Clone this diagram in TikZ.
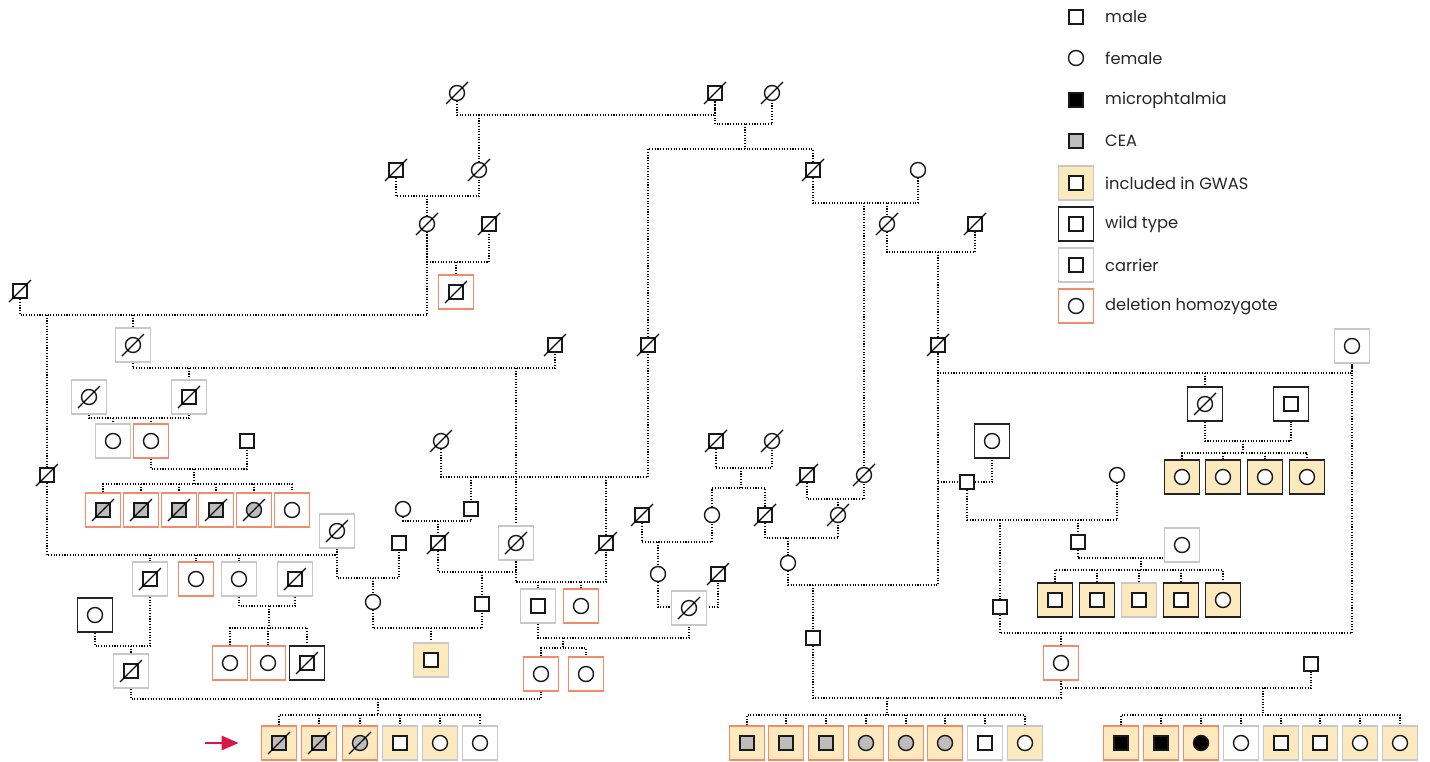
\documentclass[tikz,border=0pt]{standalone}
\usepackage{fontspec}
\setmainfont{Poppins}
\usetikzlibrary{backgrounds,arrows.meta}
\definecolor{gw}{RGB}{252,234,190}
\definecolor{car}{RGB}{200,200,200}
\definecolor{hom}{RGB}{244,138,104}
\definecolor{ceag}{RGB}{189,189,189}
\definecolor{wtc}{RGB}{35,35,35}
\definecolor{arr}{RGB}{214,24,70}
\tikzset{
 sym/.style={draw=black!90, line width=1.4pt, inner sep=0pt, fill=white},
 M/.style={sym, rectangle, minimum size=14pt},
 F/.style={sym, circle, minimum size=15pt},
 Mc/.style={M, fill=ceag}, Fc/.style={F, fill=ceag},
 Ma/.style={M, fill=black}, Fa/.style={F, fill=black},
 bx/.style={rectangle, inner sep=0pt, minimum width=35pt, minimum height=34pt, line width=1.6pt},
 nf/.style={inner sep=0pt, minimum size=0pt},
 wt/.style={bx, draw=wtc, fill=white},
 wty/.style={bx, draw=wtc, fill=gw},
 ca/.style={bx, draw=car, fill=white},
 cay/.style={bx, draw=car, fill=gw},
 ho/.style={bx, draw=hom, fill=white},
 hoy/.style={bx, draw=hom, fill=gw},
 rel/.style={draw=black, line width=1.15pt, dash pattern=on 1.1pt off 1.6pt},
 dsl/.style={line width=1.3pt, black},
 lab/.style={anchor=west, inner sep=0pt, font=\fontsize{16.3}{18}\selectfont, text=black!85}
}
\newcommand\pp[5]{\node[#4] (#1) at (#2,#3) {}; \node[#5] (#1s) at (#2,#3) {};}
\newcommand\dd[1]{\draw[dsl] ([shift={(-11,11)}]#1.center) -- ([shift={(11,-11)}]#1.center);}
\newcommand\pd[5]{\pp{#1}{#2}{#3}{#4}{#5}\dd{#1s}}
\begin{document}
\begin{tikzpicture}[x=1pt,y=-1pt]
\useasboundingbox (0,0) rectangle (1430,761);
% legend
\pp{L1}{1076}{17}{nf}{M}
\pp{L2}{1076}{58}{nf}{F}
\pp{L3}{1076}{100}{nf}{Ma}
\pp{L4}{1076}{141}{nf}{Mc}
\pp{L5}{1076}{183}{cay}{M}
\pp{L6}{1076}{224}{wt}{M}
\pp{L7}{1076}{265}{ca}{M}
\pp{L8}{1076}{306}{ho}{F}
\node[lab] (T1) at (1105,17) {male};
\node[lab] (T2) at (1105,58) {female};
\node[lab] (T3) at (1105,100) {microphtalmia};
\node[lab] (T4) at (1105,141) {CEA};
\node[lab] (T5) at (1105,183) {included in GWAS};
\node[lab] (T6) at (1105,224) {wild type};
\node[lab] (T7) at (1105,265) {carrier};
\node[lab] (T8) at (1105,306) {deletion homozygote};
% generation I-III
\pd{a1}{457}{93}{nf}{F}
\pd{a2}{715}{93}{nf}{M}
\pd{a3}{772}{93}{nf}{F}
\pd{b1}{396}{170}{nf}{M}
\pd{b2}{479}{170}{nf}{F}
\pd{b3}{813}{170}{nf}{M}
\pp{b4}{918}{170}{nf}{F}
\pd{c1}{427}{224}{nf}{F}
\pd{c2}{489}{224}{nf}{M}
\pd{c3}{887}{224}{nf}{F}
\pd{c4}{975}{224}{nf}{M}
\pd{d0}{20}{291}{nf}{M}
\pd{c5}{456}{292}{ho}{M}
% generation IV
\pd{e1}{133}{345}{ca}{F}
\pd{e2}{555}{345}{nf}{M}
\pd{g1}{648}{345}{nf}{M}
\pd{h1}{938}{345}{nf}{M}
\pp{k1}{1352}{346}{ca}{F}
\pd{e3}{89}{397}{ca}{F}
\pd{e4}{189}{397}{ca}{M}
\pp{e5}{113}{441}{ca}{F}
\pp{e6}{151}{441}{ho}{F}
\pp{e7}{247}{441}{nf}{M}
\pd{f1}{441}{441}{nf}{F}
\pd{m1}{716}{441}{nf}{M}
\pd{m2}{772}{441}{nf}{F}
\pd{k2}{1205}{404}{wt}{F}
\pp{k3}{1291}{404}{wt}{M}
\pp{j1}{992}{441}{wt}{F}
\pp{j2}{967}{482}{nf}{M}
\pd{n1}{807}{475}{nf}{M}
\pd{n2}{864}{475}{nf}{F}
\pd{d1}{47}{475}{nf}{M}
\pp{j3}{1117}{475}{nf}{F}
\pp{k4}{1182}{477}{wty}{F}
\pp{k5}{1223}{477}{wty}{F}
\pp{k6}{1265}{477}{wty}{F}
\pp{k7}{1307}{477}{wty}{F}
\pd{e8}{103}{510}{ho}{Mc}
\pd{e9}{141}{510}{ho}{Mc}
\pd{e10}{179}{510}{ho}{Mc}
\pd{e11}{216}{510}{ho}{Mc}
\pd{e12}{254}{510}{ho}{Fc}
\pp{e13}{292}{510}{ho}{F}
\pp{f2}{403}{509}{nf}{F}
\pp{f3}{471}{509}{nf}{M}
\pp{m3}{712}{515}{nf}{F}
\pd{m4}{765}{515}{nf}{M}
\pd{m5}{642}{515}{nf}{M}
\pd{n3}{838}{515}{nf}{F}
\pd{d2}{337}{531}{ca}{F}
\pp{f4}{399}{543}{nf}{M}
\pd{f5}{438}{543}{nf}{M}
\pd{f6}{516}{543}{ca}{F}
\pd{f7}{606}{543}{nf}{M}
\pp{j4}{1078}{542}{nf}{M}
\pp{j5}{1182}{545}{ca}{F}
\pp{m6}{788}{563}{nf}{F}
\pp{m7}{658}{574}{nf}{F}
\pd{m8}{718}{574}{nf}{M}
\pd{d3}{150}{579}{ca}{M}
\pp{d4}{196}{579}{ho}{F}
\pp{d5}{239}{579}{ca}{F}
\pd{d6}{295}{579}{ca}{M}
\pp{f8}{373}{602}{nf}{F}
\pp{f9}{482}{604}{nf}{M}
\pp{g2}{538}{606}{ca}{M}
\pp{g3}{581}{606}{ho}{F}
\pd{m9}{689}{608}{ca}{F}
\pp{j6}{1000}{607}{nf}{M}
\pp{j7}{1055}{600}{wty}{M}
\pp{j8}{1097}{600}{wty}{M}
\pp{j9}{1139}{600}{cay}{M}
\pp{j10}{1181}{600}{wty}{M}
\pp{j11}{1223}{600}{wty}{F}
\pp{d7}{95}{615}{wt}{F}
\pd{d8}{131}{671}{ca}{M}
\pp{p0}{813}{638}{nf}{M}
\pp{g4}{541}{674}{ho}{F}
\pp{g5}{586}{674}{ho}{F}
\pp{f10}{431}{660}{cay}{M}
\pp{d9}{230}{663}{ho}{F}
\pp{d10}{268}{663}{ho}{F}
\pd{d11}{307}{663}{wt}{M}
\pp{q}{1061}{663}{ho}{F}
\pp{r}{1311}{664}{nf}{M}
% bottom row
\pd{s1}{279}{743}{hoy}{Mc}
\pd{s2}{319}{743}{hoy}{Mc}
\pd{s3}{360}{743}{hoy}{Fc}
\pp{s4}{400}{743}{cay}{M}
\pp{s5}{440}{743}{cay}{F}
\pp{s6}{480}{743}{ca}{F}
\pp{t1}{747}{743}{hoy}{Mc}
\pp{t2}{786}{743}{hoy}{Mc}
\pp{t3}{826}{743}{hoy}{Mc}
\pp{t4}{866}{743}{hoy}{Fc}
\pp{t5}{906}{743}{hoy}{Fc}
\pp{t6}{945}{743}{hoy}{Fc}
\pp{t7}{985}{743}{ca}{M}
\pp{t8}{1025}{743}{cay}{F}
\pp{u1}{1121}{743}{hoy}{Ma}
\pp{u2}{1161}{743}{hoy}{Ma}
\pp{u3}{1201}{743}{hoy}{Fa}
\pp{u4}{1241}{743}{ca}{F}
\pp{u5}{1281}{743}{cay}{M}
\pp{u6}{1320}{743}{cay}{M}
\pp{u7}{1360}{743}{cay}{F}
\pp{u8}{1400}{743}{cay}{F}
% proband arrow
\coordinate (arT) at (205,743);
\draw[arr, line width=2.6pt, -{Triangle[length=17pt,width=14pt]}] (arT) -- ([xshift=-22pt]s1.west);
% connectors
\begin{scope}[on background layer]
\draw[rel] (a1) -- (a1|-0,115) -| (a2);
\draw[rel] (a2) -- (a2|-0,124) -| (a3);
\draw[rel] (b2|-0,115) -- (b2);
\draw[rel] (745,124) -- (745,149);
\draw[rel] (g1) -- (g1|-0,149) -| (b3);
\draw[rel] (b1) -- (b1|-0,196) -| (b2);
\draw[rel] (c1|-0,196) -- (c1);
\draw[rel] (b3) -- (b3|-0,203) -| (b4);
\draw[rel] (n2|-0,203) -- (n2);
\draw[rel] (c3|-0,203) -- (c3);
\draw[rel] (c3) -- (c3|-0,252) -| (c4);
\draw[rel] (h1|-0,252) -- (h1);
\draw[rel] (c1) -- (c1|-0,262) -| (c2);
\draw[rel] (c5|-0,262) -- (c5);
\draw[rel] (d0) -- (d0|-0,315) -| (c1);
\draw[rel] (d1|-0,315) -- (d1);
\draw[rel] (e1|-0,315) -- (e1);
\draw[rel] (e1) -- (e1|-0,368) -| (e2);
\draw[rel] (e4|-0,368) -- (e4);
\draw[rel] (f6|-0,368) -- (f6);
\draw[rel] (e3) -- (e3|-0,418) -| (e4);
\draw[rel] (e5|-0,418) -- (e5);
\draw[rel] (e6|-0,418) -- (e6);
\draw[rel] (e6) -- (e6|-0,469) -| (e7);
\draw[rel] (194,469) -- (194,484);
\draw[rel] (e8) -- (e8|-0,484) -| (e13);
\foreach \c in {e9,e10,e11,e12} \draw[rel] (\c|-0,484) -- (\c);
\draw[rel] (f1) -- (f1|-0,477) -| (g1);
\draw[rel] (f3|-0,477) -- (f3);
\draw[rel] (f7|-0,477) -- (f7);
\draw[rel] (f2) -- (f2|-0,521) -| (f3);
\draw[rel] (f5|-0,521) -- (f5);
\draw[rel] (d1) -- (d1|-0,555) -| (d2);
\foreach \c in {d3,d4,d5} \draw[rel] (\c|-0,555) -- (\c);
\draw[rel] (d2) -- (d2|-0,578) -| (f4);
\draw[rel] (f8|-0,578) -- (f8);
\draw[rel] (f5) -- (f5|-0,572) -| (f6);
\draw[rel] (f9|-0,572) -- (f9);
\draw[rel] (f6) -- (f6|-0,582) -| (f7);
\draw[rel] (g2|-0,582) -- (g2);
\draw[rel] (g3|-0,582) -- (g3);
\draw[rel] (f8) -- (f8|-0,628) -| (f9);
\draw[rel] (f10|-0,628) -- (f10);
\draw[rel] (g2) -- (g2|-0,638) -| (m9);
\draw[rel] (563,638) -- (563,648);
\draw[rel] (g4) -- (g4|-0,648) -| (g5);
\draw[rel] (m7) -- (m7|-0,607) -| (m8);
\draw[rel] (m1) -- (m1|-0,468) -| (m2);
\draw[rel] (741,468) -- (741,488);
\draw[rel] (m3) -- (m3|-0,488) -| (m4);
\draw[rel] (n1) -- (n1|-0,499) -| (n2);
\draw[rel] (n3|-0,499) -- (n3);
\draw[rel] (m5) -- (m5|-0,542) -| (m3);
\draw[rel] (m7|-0,542) -- (m7);
\draw[rel] (m4) -- (m4|-0,538) -| (n3);
\draw[rel] (m6|-0,538) -- (m6);
\draw[rel] (m6) -- (m6|-0,585) -| (h1);
\draw[rel] (p0|-0,585) -- (p0);
\draw[rel] (h1) -- (h1|-0,373) -| (k1);
\draw[rel] (k2|-0,373) -- (k2);
\draw[rel] (h1|-0,482) -- (j2);
\draw[rel] (j2) -| (j1);
\draw[rel] (j2) -- (j2|-0,520) -| (j3);
\draw[rel] (j6|-0,520) -- (j6);
\draw[rel] (j4|-0,520) -- (j4);
\draw[rel] (j4) -- (j4|-0,558) -| (j5);
\draw[rel] (1141,558) -- (1141,570);
\draw[rel] (j7) -- (j7|-0,570) -| (j11);
\foreach \c in {j8,j9,j10} \draw[rel] (\c|-0,570) -- (\c);
\draw[rel] (k2) -- (k2|-0,441) -| (k3);
\draw[rel] (1243,441) -- (1243,453);
\draw[rel] (k4) -- (k4|-0,453) -| (k7);
\foreach \c in {k5,k6} \draw[rel] (\c|-0,453) -- (\c);
\draw[rel] (j6) -- (j6|-0,633) -| (k1);
\draw[rel] (q|-0,633) -- (q);
\draw[rel] (p0) -- (p0|-0,698) -| (q);
\draw[rel] (887,698) -- (887,715);
\draw[rel] (t1) -- (t1|-0,715) -| (t8);
\foreach \c in {t2,t3,t4,t5,t6,t7} \draw[rel] (\c|-0,715) -- (\c);
\draw[rel] (q) -- (q|-0,688) -| (r);
\draw[rel] (1263,688) -- (1263,715);
\draw[rel] (u1) -- (u1|-0,715) -| (u8);
\foreach \c in {u2,u3,u4,u5,u6,u7} \draw[rel] (\c|-0,715) -- (\c);
\draw[rel] (d3) -- (d3|-0,646) -| (d7);
\draw[rel] (d8|-0,646) -- (d8);
\draw[rel] (d8) -- (d8|-0,699) -| (g4);
\draw[rel] (378,699) -- (378,715);
\draw[rel] (s1) -- (s1|-0,715) -| (s6);
\foreach \c in {s2,s3,s4,s5} \draw[rel] (\c|-0,715) -- (\c);
\draw[rel] (d5) -- (d5|-0,606) -| (d6);
\draw[rel] (269,606) -- (269,628);
\draw[rel] (d9) -- (d9|-0,628) -| (d11);
\draw[rel] (d10|-0,628) -- (d10);
\end{scope}
\end{tikzpicture}
\end{document}
